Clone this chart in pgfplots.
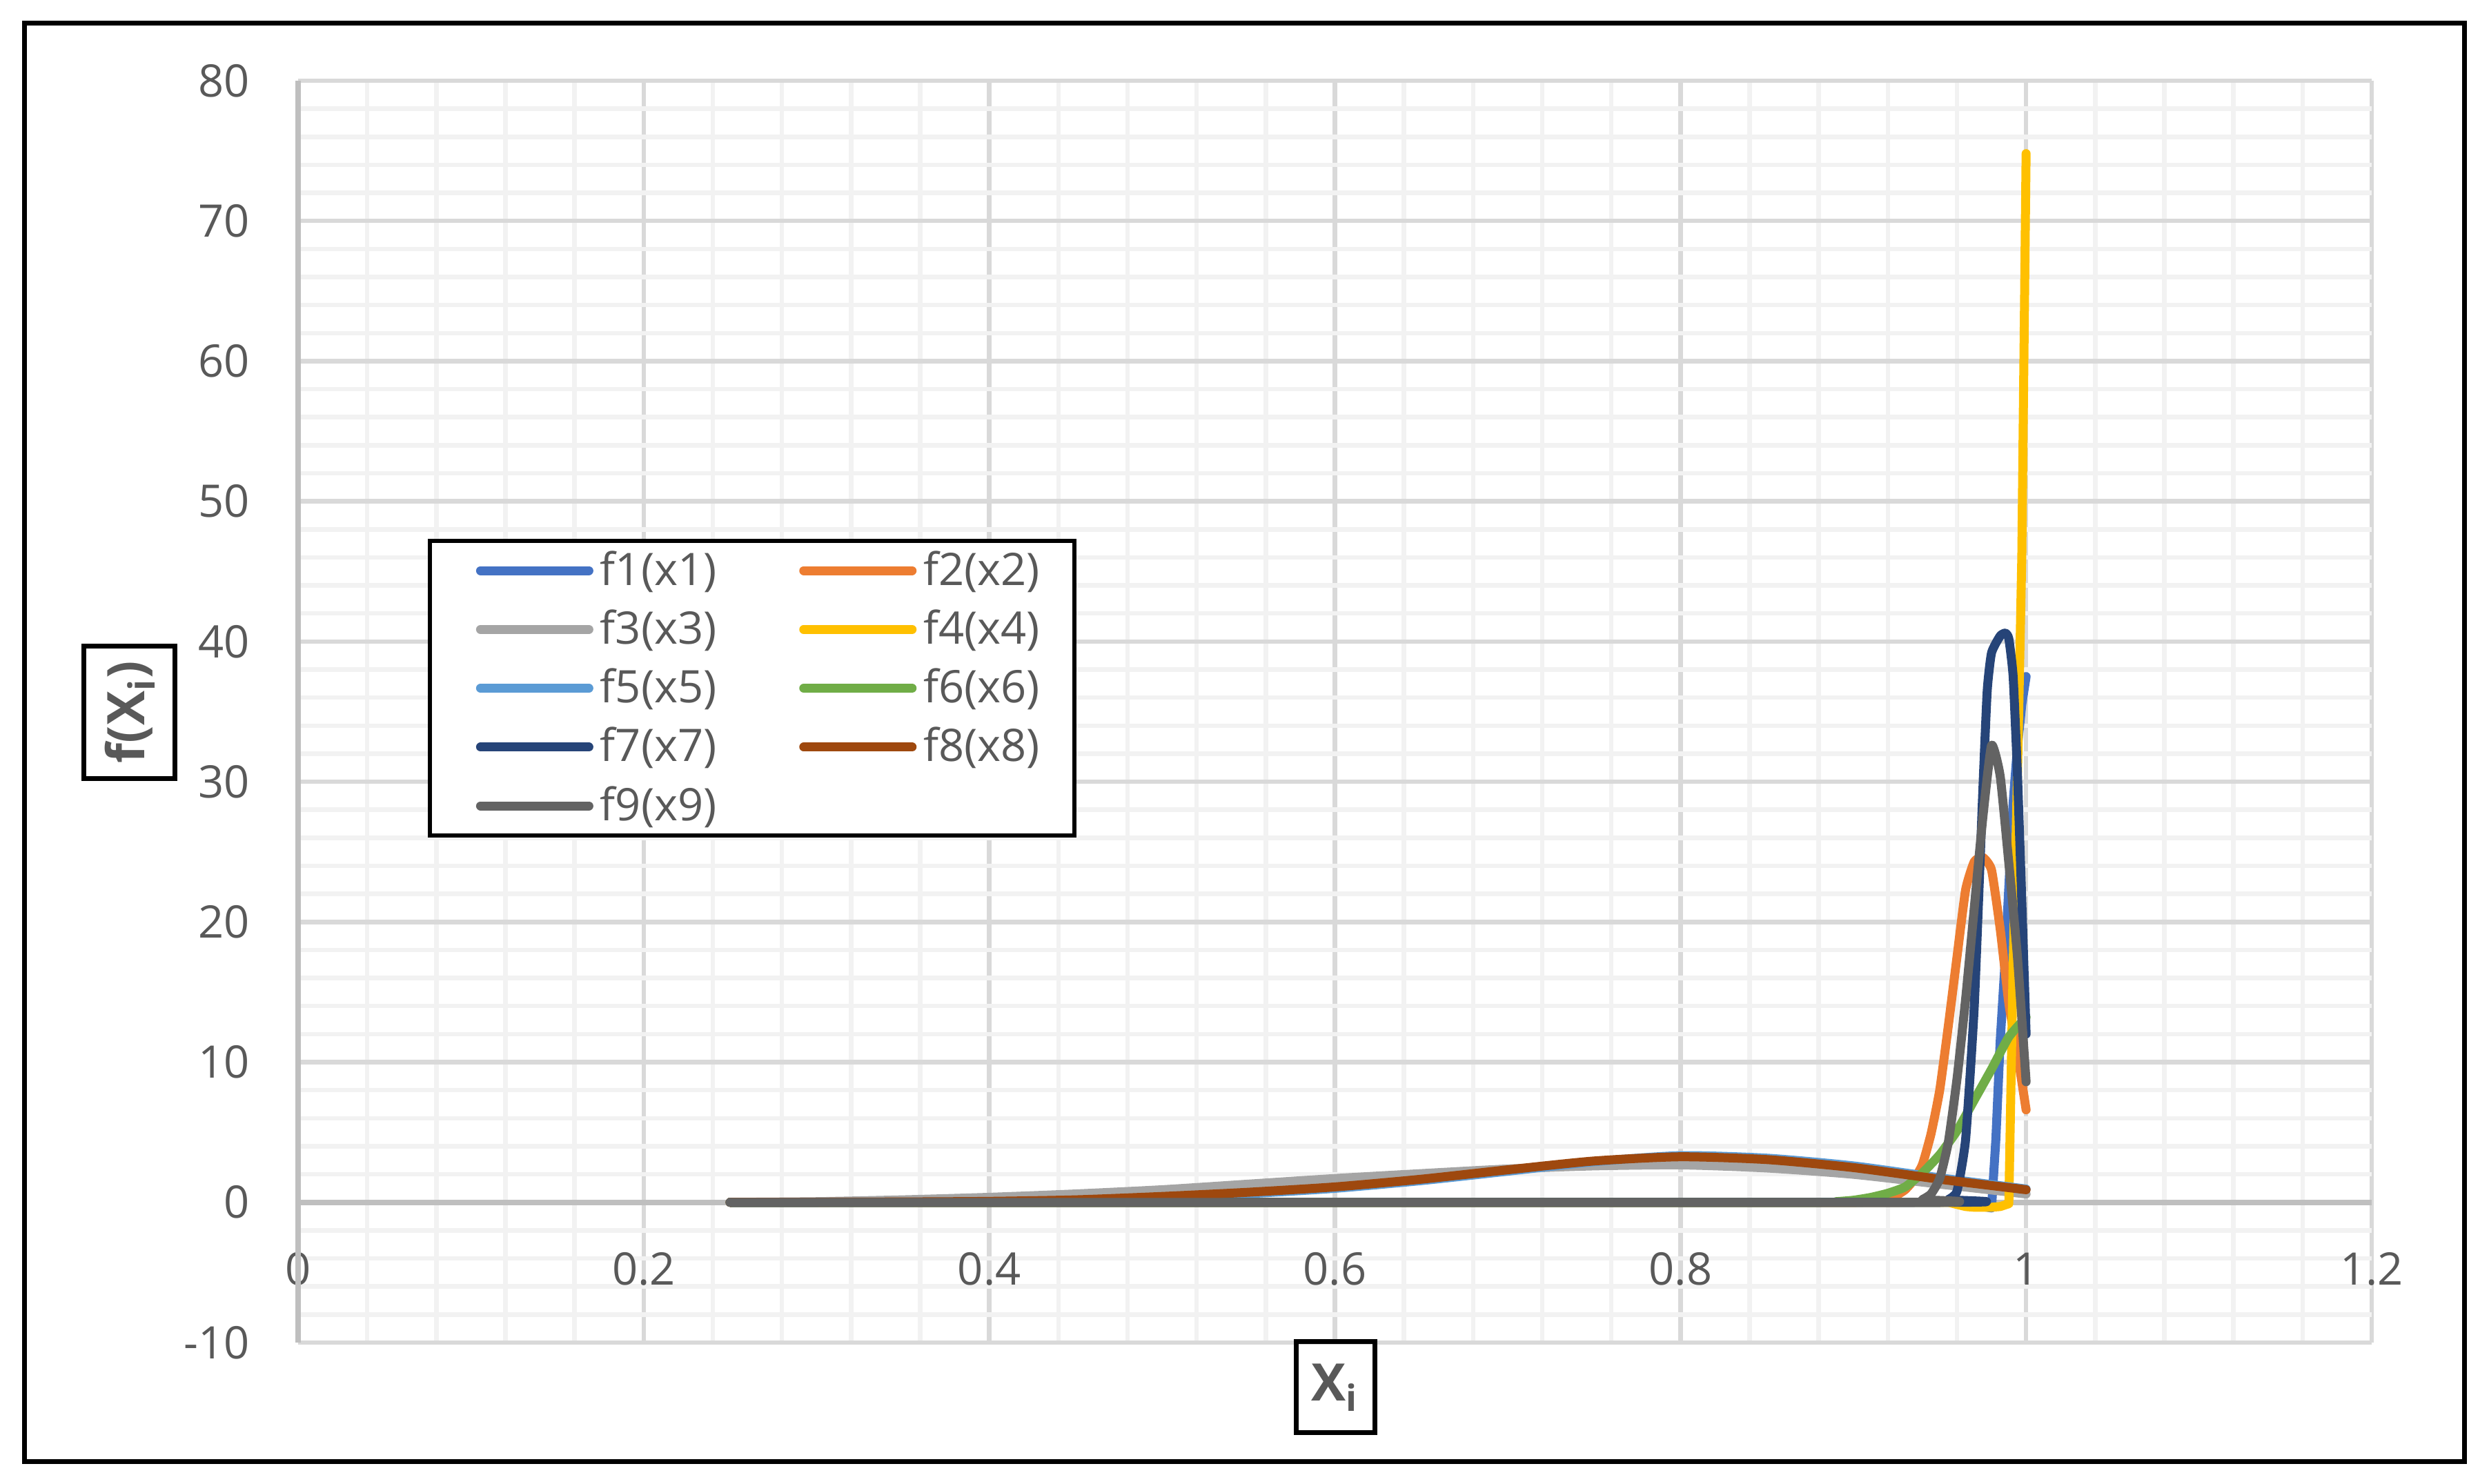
\documentclass[border=0pt]{standalone}
\usepackage{fontspec}
\setmainfont{Open Sans}
\usepackage{pgfplots}
\pgfplotsset{compat=1.18}
\definecolor{cf1}{HTML}{4472C4}
\definecolor{cf2}{HTML}{ED7D31}
\definecolor{cf3}{HTML}{A5A5A5}
\definecolor{cf4}{HTML}{FFC000}
\definecolor{cf5}{HTML}{5B9BD5}
\definecolor{cf6}{HTML}{70AD47}
\definecolor{cf7}{HTML}{264478}
\definecolor{cf8}{HTML}{9E480E}
\definecolor{cf9}{HTML}{636363}
\definecolor{gridmaj}{HTML}{D9D9D9}
\definecolor{gridmin}{HTML}{F2F2F2}
\definecolor{axgray}{HTML}{BFBFBF}
\definecolor{labgray}{HTML}{595959}
\begin{document}
\begin{tikzpicture}
\begin{axis}[
  scale only axis, width=601pt, height=365.8pt,
  xmin=0, xmax=1.2, ymin=-10, ymax=80,
  xtick={0,0.2,0.4,0.6,0.8,1,1.2},
  xticklabels={0,0.2,0.4,0.6,0.8,1,1.2},
  ytick={-10,0,10,20,30,40,50,60,70,80},
  yticklabels={-10,0,10,20,30,40,50,60,70,80},
  minor x tick num=4, minor y tick num=4,
  grid=both,
  major grid style={draw=gridmaj, line width=1.3pt},
  minor grid style={draw=gridmin, line width=1.3pt},
  axis line style={draw=none},
  major tick length=0pt, minor tick length=0pt,
  tick label style={font=\fontsize{13}{15}\selectfont, text=labgray},
  xticklabel style={anchor=center, yshift=21.4pt},
  yticklabel style={anchor=east, xshift=-13.8pt, inner sep=0pt},
  clip=false,
  legend columns=2,
  legend cell align=left,
  legend style={at={(0.0627,0.6367)}, anchor=north west, draw=black, line width=1.2pt,
    font=\fontsize{13}{15}\selectfont, text=labgray, inner xsep=7.9pt, inner ysep=0pt,
    row sep=0pt, nodes={inner ysep=2.8pt},
    /tikz/every even column/.append style={column sep=16.5pt}},
  legend image code/.code={\path (-4.1pt,0pt); \draw[#1, line cap=round] (1.3pt,0pt) -- (32.7pt,0pt);},
  every axis plot/.append style={line width=2.6pt, line join=round, line cap=round},
]
\draw[axgray, line width=1.5pt] (axis cs:0,-10) -- (axis cs:0,80);
\draw[axgray, line width=1.5pt] (axis cs:0,0) -- (axis cs:1.2,0);

\addplot[cf1] coordinates {(0.25,0) (0.97,0) (0.975,-0.3) (0.98,-0.4) (0.9825,4.5) (0.985,11.5) (0.9875,16.5) (0.99,22.5) (0.9925,28.5) (0.995,32.5) (0.9975,35.5) (1.0,37.5)};
\addlegendentry{f1(x1)}
\addplot[cf2, smooth, tension=0.3] coordinates {(0.25,0) (0.90,0) (0.91,0.05) (0.92,0.25) (0.925,0.5) (0.93,0.9) (0.935,1.6) (0.94,2.7) (0.945,4.9) (0.95,8.0) (0.955,12.6) (0.96,17.5) (0.965,22.3) (0.97,24.3) (0.975,24.6) (0.98,23.7) (0.985,19.5) (0.99,14.2) (0.995,10.6) (1.0,6.6)};
\addlegendentry{f2(x2)}
\addplot[cf3, smooth, tension=0.4] coordinates {(0.25,0) (0.30,0.05) (0.35,0.18) (0.40,0.36) (0.45,0.6) (0.50,0.9) (0.55,1.3) (0.60,1.7) (0.65,2.05) (0.70,2.38) (0.75,2.6) (0.80,2.67) (0.85,2.45) (0.90,2.0) (0.95,1.3) (1.0,0.6)};
\addlegendentry{f3(x3)}
\addplot[cf4] coordinates {(0.25,0) (0.955,0) (0.96,-0.15) (0.965,-0.3) (0.97,-0.35) (0.98,-0.35) (0.985,-0.3) (0.99,-0.1) (0.9925,17) (0.995,30.5) (0.9975,46) (1.0,74.8)};
\addlegendentry{f4(x4)}
\addplot[cf5, smooth, tension=0.4] coordinates {(0.25,0) (0.30,0) (0.35,0.01) (0.40,0.04) (0.45,0.13) (0.50,0.33) (0.55,0.62) (0.60,1.0) (0.65,1.55) (0.70,2.22) (0.75,2.9) (0.80,3.33) (0.85,3.15) (0.90,2.6) (0.95,1.75) (1.0,0.95)};
\addlegendentry{f5(x5)}
\addplot[cf6, smooth, tension=0.3] coordinates {(0.25,0) (0.88,0) (0.89,0.05) (0.90,0.15) (0.91,0.35) (0.92,0.65) (0.93,1.1) (0.94,2.1) (0.95,3.4) (0.96,5.1) (0.97,7.3) (0.98,9.5) (0.99,11.8) (1.0,13.2)};
\addlegendentry{f6(x6)}
\addplot[cf7, smooth, tension=0.3] coordinates {(0.25,0) (0.95,0) (0.955,0.2) (0.96,0.8) (0.965,4.5) (0.97,14) (0.975,29.5) (0.9775,36.5) (0.98,39.2) (0.985,40.4) (0.988,40.6) (0.99,40.2) (0.9925,37.5) (0.995,30.5) (0.9975,21.5) (1.0,12)};
\addlegendentry{f7(x7)}
\addplot[cf8, smooth, tension=0.4] coordinates {(0.25,0) (0.30,0.01) (0.35,0.03) (0.40,0.07) (0.45,0.18) (0.50,0.42) (0.55,0.72) (0.60,1.1) (0.65,1.65) (0.70,2.32) (0.75,2.95) (0.80,3.25) (0.85,3.05) (0.90,2.48) (0.95,1.65) (1.0,0.9)};
\addlegendentry{f8(x8)}
\addplot[cf9, smooth, tension=0.3] coordinates {(0.25,0) (0.935,0) (0.94,0.2) (0.945,0.6) (0.95,1.7) (0.955,4.3) (0.96,8.8) (0.965,14.5) (0.97,21.0) (0.975,27.5) (0.98,32.6) (0.985,30.4) (0.99,24.2) (0.995,17.5) (1.0,8.6)};
\addlegendentry{f9(x9)}

\node[draw=black, line width=1.4pt, rotate=90, minimum width=38.4pt, minimum height=26.4pt, inner sep=0pt, text=labgray, font=\bfseries\fontsize{15}{18}\selectfont] at (rel axis cs:-0.0812,0.4997) {f(X\textsubscript{i})};
\node[draw=black, line width=1.4pt, minimum width=22.8pt, minimum height=26.4pt, inner sep=0pt, text=labgray, font=\bfseries\fontsize{15}{18}\selectfont] at (rel axis cs:0.5002,-0.0355) {X\textsubscript{i}};

\coordinate (BBsw) at (rel axis cs:-0.14376,-0.11208);
\coordinate (BBne) at (rel axis cs:1.05657,1.06397);
\coordinate (FRsw) at (rel axis cs:-0.13178,-0.09459);
\coordinate (FRne) at (rel axis cs:1.04459,1.04538);
\end{axis}
\path (BBsw) rectangle (BBne);
\draw[line width=1.4pt] (FRsw) rectangle (FRne);
\end{tikzpicture}
\end{document}
